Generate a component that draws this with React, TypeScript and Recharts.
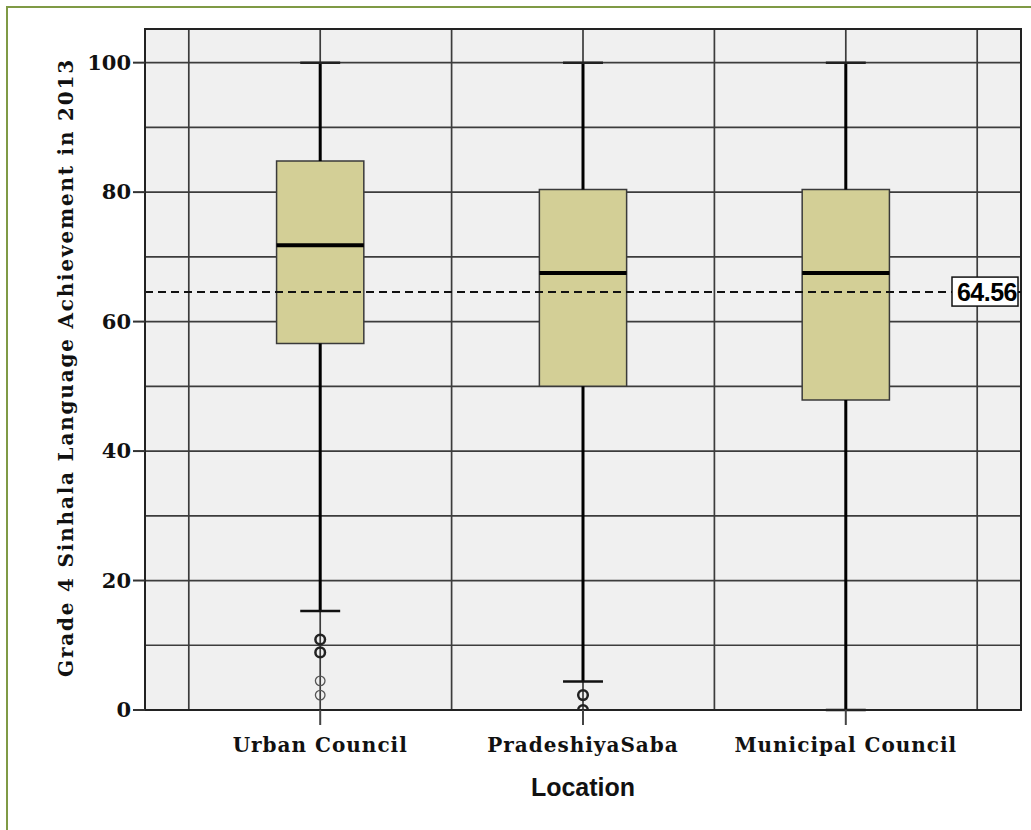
import React from "react";
import {
  ComposedChart,
  XAxis,
  YAxis,
  CartesianGrid,
  ReferenceArea,
  ReferenceLine,
  Scatter,
} from "recharts";

// ─── Data ────────────────────────────────────────────────────────────────────

const CATEGORIES = ["Urban Council", "PradeshiyaSaba", "Municipal Council"];
const WHISKER_HIGH = [100, 100, 100];
const Q3 = [84.8, 80.4, 80.4];
const MEDIANS = [71.8, 67.5, 67.5];
const Q1 = [56.6, 50.0, 47.9];
const WHISKER_LOW = [15.3, 4.4, 0];

// outliers drawn heavier where several cases share one value
const OUTLIERS_STACKED = [
  { x: 1, y: 10.9 },
  { x: 1, y: 8.9 },
  { x: 2, y: 2.3 },
  { x: 2, y: 0 },
];
const OUTLIERS_SINGLE = [
  { x: 1, y: 4.5 },
  { x: 1, y: 2.3 },
];

const GRAND_MEAN = 64.56;

const Y_TICKS = [0, 20, 40, 60, 80, 100];
const Y_GRID = [0, 10, 20, 30, 40, 50, 60, 70, 80, 90, 100];
const X_TICKS = [1, 2, 3];
const X_GRID = [0.5, 1, 1.5, 2, 2.5, 3, 3.5];

// ─── Layout ──────────────────────────────────────────────────────────────────

const X_DOMAIN: [number, number] = [1 / 3, 11 / 3];
const Y_DOMAIN: [number, number] = [0, 105.2];
const BOX_HALF = 0.166;
const CAP_HALF = 0.076;

const SERIF = "'DejaVu Serif', serif";
const SANS = "'Liberation Sans', Arial, sans-serif";

// ─── Pieces ──────────────────────────────────────────────────────────────────

function CategoryTick(props: any) {
  const { x, y, payload } = props;
  return (
    <text
      x={x}
      y={y + 25}
      textAnchor="middle"
      fontFamily={SERIF}
      fontWeight="bold"
      fontSize={20}
      letterSpacing={1}
      fill="#111"
    >
      {CATEGORIES[payload.value - 1]}
    </text>
  );
}

function ValueTick(props: any) {
  const { x, y, payload } = props;
  return (
    <text
      x={x}
      y={y + 7}
      textAnchor="end"
      fontFamily={SERIF}
      fontWeight="bold"
      fontSize={21}
      fill="#111"
    >
      {payload.value}
    </text>
  );
}

function MeanLabel(props: any) {
  const { viewBox } = props;
  const right = viewBox.x + viewBox.width - 3;
  const cy = viewBox.y;
  return (
    <g>
      <rect
        x={right - 66}
        y={cy - 15}
        width={66}
        height={29}
        fill="#fff"
        stroke="#111"
        strokeWidth={1.5}
      />
      <text
        x={right - 1}
        y={cy + 9}
        textAnchor="end"
        fontFamily={SANS}
        fontSize={25}
        fontWeight="bold"
        letterSpacing={-0.5}
        fill="#000"
      >
        {GRAND_MEAN.toFixed(2)}
      </text>
    </g>
  );
}

const ring = (strokeWidth: number, stroke: string) => (p: any) => (
  <circle
    cx={p.cx}
    cy={p.cy}
    r={4.8}
    fill="none"
    stroke={stroke}
    strokeWidth={strokeWidth}
  />
);

// ─── Chart ───────────────────────────────────────────────────────────────────

export default function App() {
  return (
    <div
      style={{
        position: "absolute",
        left: 0,
        top: 0,
        width: 1031,
        height: 830,
        background: "#fff",
      }}
    >
      <div
        style={{
          position: "absolute",
          left: 6,
          top: 6,
          width: 1040,
          height: 840,
          borderLeft: "2px solid #7f9a45",
          borderTop: "2px solid #7f9a45",
        }}
      />
      <div style={{ position: "absolute", left: 0, top: 0 }}>
        <ComposedChart
          width={1031}
          height={830}
          margin={{ top: 29, right: 10, bottom: 20, left: 50 }}
        >
          <CartesianGrid
            fill="#f0f0f0"
            stroke="#3c3c3c"
            strokeWidth={1.7}
            horizontalValues={Y_GRID}
            verticalValues={X_GRID}
          />
          <XAxis
            type="number"
            dataKey="x"
            domain={X_DOMAIN}
            ticks={X_TICKS}
            allowDataOverflow
            height={100}
            tickSize={15}
            tickLine={{ stroke: "#444", strokeWidth: 2 }}
            axisLine={{ stroke: "#222", strokeWidth: 2 }}
            tick={<CategoryTick />}
            interval={0}
            label={{
              content: (p: any) => (
                <text
                  x={p.viewBox.x + p.viewBox.width / 2}
                  y={p.viewBox.y + 86}
                  textAnchor="middle"
                  fontFamily={SANS}
                  fontWeight="bold"
                  fontSize={25}
                  fill="#111"
                >
                  Location
                </text>
              ),
            }}
          />
          <YAxis
            type="number"
            domain={Y_DOMAIN}
            ticks={Y_TICKS}
            allowDataOverflow
            width={95}
            tickSize={12}
            tickLine={{ stroke: "#333", strokeWidth: 2 }}
            axisLine={{ stroke: "#222", strokeWidth: 2 }}
            tick={<ValueTick />}
            interval={0}
            label={{
              content: (p: any) => {
                const cx = p.viewBox.x + 16;
                const cy = p.viewBox.y + p.viewBox.height / 2 - 2;
                return (
                  <text
                    x={cx}
                    y={cy}
                    transform={`rotate(-90 ${cx} ${cy})`}
                    textAnchor="middle"
                    dominantBaseline="central"
                    fontFamily={SERIF}
                    fontWeight="bold"
                    fontSize={20}
                    letterSpacing={1.8}
                    fill="#111"
                  >
                    Grade 4 Sinhala Language Achievement in 2013
                  </text>
                );
              },
            }}
          />

          {/* plot frame */}
          <ReferenceArea
            x1={X_DOMAIN[0]}
            x2={X_DOMAIN[1]}
            y1={Y_DOMAIN[0]}
            y2={Y_DOMAIN[1]}
            fill="none"
            stroke="#222"
            strokeWidth={2}
          />

          {/* whiskers and caps */}
          {X_TICKS.map((c, i) => (
            <ReferenceLine
              key={`wh-${c}`}
              segment={[
                { x: c, y: Q3[i] },
                { x: c, y: WHISKER_HIGH[i] },
              ]}
              stroke="#000"
              strokeWidth={3}
            />
          ))}
          {X_TICKS.map((c, i) => (
            <ReferenceLine
              key={`wl-${c}`}
              segment={[
                { x: c, y: WHISKER_LOW[i] },
                { x: c, y: Q1[i] },
              ]}
              stroke="#000"
              strokeWidth={3}
            />
          ))}
          {X_TICKS.map((c, i) => (
            <ReferenceLine
              key={`ch-${c}`}
              segment={[
                { x: c - CAP_HALF, y: WHISKER_HIGH[i] },
                { x: c + CAP_HALF, y: WHISKER_HIGH[i] },
              ]}
              stroke="#222"
              strokeWidth={2.5}
            />
          ))}
          {X_TICKS.map((c, i) => (
            <ReferenceLine
              key={`cl-${c}`}
              segment={[
                { x: c - CAP_HALF, y: WHISKER_LOW[i] },
                { x: c + CAP_HALF, y: WHISKER_LOW[i] },
              ]}
              stroke="#111"
              strokeWidth={2.5}
            />
          ))}

          {/* boxes */}
          {X_TICKS.map((c, i) => (
            <ReferenceArea
              key={`box-${c}`}
              x1={c - BOX_HALF}
              x2={c + BOX_HALF}
              y1={Q1[i]}
              y2={Q3[i]}
              fill="#d3cf96"
              fillOpacity={1}
              stroke="#3a3a3a"
              strokeWidth={1.5}
            />
          ))}

          {/* medians */}
          {X_TICKS.map((c, i) => (
            <ReferenceLine
              key={`med-${c}`}
              segment={[
                { x: c - BOX_HALF, y: MEDIANS[i] },
                { x: c + BOX_HALF, y: MEDIANS[i] },
              ]}
              stroke="#000"
              strokeWidth={4}
            />
          ))}

          {/* grand mean */}
          <ReferenceLine
            y={GRAND_MEAN}
            stroke="#111"
            strokeWidth={2}
            strokeDasharray="8 5"
            label={{ content: <MeanLabel /> }}
          />

          <Scatter
            data={OUTLIERS_SINGLE}
            dataKey="y"
            isAnimationActive={false}
            shape={ring(1.3, "#555")}
          />
          <Scatter
            data={OUTLIERS_STACKED}
            dataKey="y"
            isAnimationActive={false}
            shape={ring(2.5, "#222")}
          />
        </ComposedChart>
      </div>
    </div>
  );
}
